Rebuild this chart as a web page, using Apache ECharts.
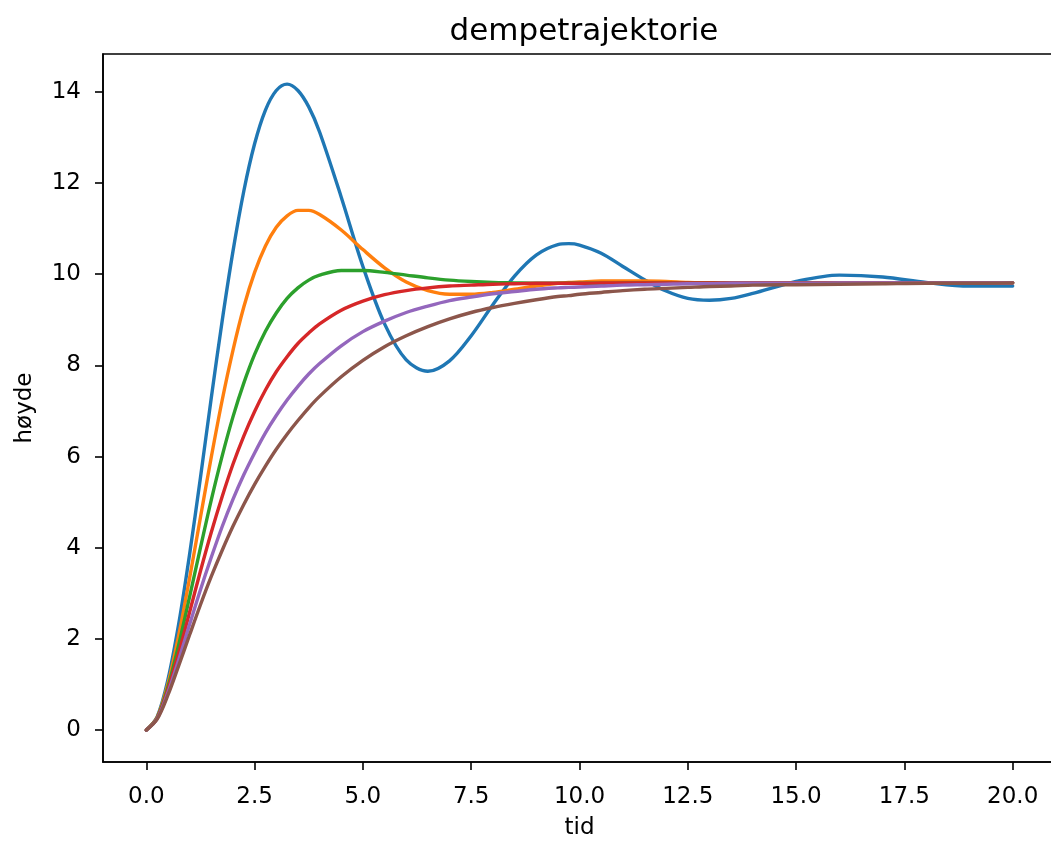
<!DOCTYPE html>
<html>
<head>
<meta charset="utf-8">
<script src="https://cdn.jsdelivr.net/npm/echarts@6/dist/echarts.min.js"></script>
<style>
	html, body { margin: 0; padding: 0; background: #fff; }
	#dempe { width: 1051px; height: 841px; }
</style>
</head>
<body>
<div id="dempe"></div>
<script>
	// tid (x)
	var tid = [0, 0.25, 0.5, 0.75, 1, 1.25, 1.5, 1.75, 2, 2.25, 2.5, 2.75, 3, 3.25, 3.5, 3.75, 4, 4.5, 5, 5.5, 6, 6.5, 7, 7.5, 8, 8.5, 9, 9.5, 9.75, 10, 10.5, 11, 11.5, 12, 12.5, 13, 13.5, 14, 15, 16, 17, 18, 19, 20];

	// høyde for hver kurve, lest av bildet
	var blaa = [0, 0.29, 1.11, 2.34, 3.86, 5.54, 7.29, 8.97, 10.50, 11.82, 12.86, 13.60, 14.03, 14.17, 14.03, 13.67, 13.12, 11.69, 10.17, 8.91, 8.12, 7.87, 8.10, 8.65, 9.33, 9.96, 10.42, 10.65, 10.67, 10.64, 10.46, 10.17, 9.88, 9.63, 9.47, 9.43, 9.47, 9.58, 9.84, 9.98, 9.94, 9.82, 9.74, 9.74];
	var oransje = [0, 0.28, 1.02, 2.09, 3.34, 4.67, 5.99, 7.23, 8.33, 9.28, 10.04, 10.62, 11.03, 11.28, 11.40, 11.40, 11.31, 10.97, 10.54, 10.14, 9.83, 9.64, 9.56, 9.56, 9.60, 9.67, 9.74, 9.80, 9.82, 9.83, 9.85, 9.85, 9.85, 9.84, 9.82, 9.81, 9.81, 9.80, 9.80, 9.81, 9.81, 9.81, 9.81, 9.81];
	var groenn = [0, 0.27, 0.95, 1.88, 2.93, 4.00, 5.05, 6.01, 6.87, 7.61, 8.24, 8.75, 9.15, 9.47, 9.70, 9.87, 9.98, 10.08, 10.08, 10.04, 9.98, 9.92, 9.87, 9.84, 9.82, 9.81, 9.80, 9.80, 9.80, 9.80, 9.80, 9.81, 9.81, 9.81, 9.81, 9.81, 9.81, 9.81, 9.81, 9.81, 9.81, 9.81, 9.81, 9.81];
	var roed = [0, 0.26, 0.89, 1.70, 2.59, 3.49, 4.34, 5.12, 5.83, 6.45, 6.99, 7.46, 7.86, 8.19, 8.48, 8.71, 8.91, 9.21, 9.41, 9.55, 9.64, 9.70, 9.74, 9.76, 9.78, 9.79, 9.80, 9.80, 9.80, 9.80, 9.81, 9.81, 9.81, 9.81, 9.81, 9.81, 9.81, 9.81, 9.81, 9.81, 9.81, 9.81, 9.81, 9.81];
	var lilla = [0, 0.25, 0.83, 1.55, 2.32, 3.08, 3.79, 4.46, 5.06, 5.60, 6.08, 6.52, 6.90, 7.24, 7.54, 7.81, 8.04, 8.43, 8.74, 8.97, 9.16, 9.30, 9.42, 9.50, 9.57, 9.62, 9.67, 9.70, 9.71, 9.72, 9.74, 9.76, 9.77, 9.78, 9.79, 9.79, 9.80, 9.80, 9.80, 9.81, 9.81, 9.81, 9.81, 9.81];
	var brun = [0, 0.24, 0.77, 1.42, 2.09, 2.75, 3.37, 3.94, 4.47, 4.95, 5.39, 5.79, 6.16, 6.49, 6.79, 7.07, 7.32, 7.75, 8.11, 8.41, 8.65, 8.85, 9.02, 9.16, 9.27, 9.36, 9.44, 9.51, 9.53, 9.56, 9.60, 9.64, 9.67, 9.69, 9.71, 9.73, 9.74, 9.76, 9.77, 9.78, 9.79, 9.80, 9.80, 9.81];

	// ticks
	var xTicks = [0, 2.5, 5, 7.5, 10, 12.5, 15, 17.5, 20];
	var yTicks = [0, 2, 4, 6, 8, 10, 12, 14];

	var kurver = [blaa, oransje, groenn, roed, lilla, brun];
	var farger = ['#1f77b4', '#ff7f0e', '#2ca02c', '#d62728', '#9467bd', '#8c564b'];

	var font = 'DejaVu Sans';

	function par(verdier) {
		return tid.map(function (t, i) { return [t, verdier[i]]; });
	}

	var serier = kurver.map(function (k, i) {
		return {
			type: 'line',
			data: par(k),
			smooth: 0.33,
			symbol: 'none',
			clip: true,
			lineStyle: { color: farger[i], width: 3.4, cap: 'round', join: 'round' },
			emphasis: { disabled: true }
		};
	});

	var dempe_option = {
		animation: false,
		backgroundColor: '#ffffff',
		title: {
			text: 'dempetrajektorie',
			left: 579,
			textAlign: 'center',
			top: 11,
			textStyle: { fontFamily: font, fontWeight: 'normal', fontSize: 31, color: '#000' }
		},
		grid: {
			left: 103,
			right: -5,
			top: 54,
			bottom: 79,
			outerBoundsMode: 'none',
			show: true,
			borderColor: '#000',
			borderWidth: 1.6
		},
		xAxis: {
			type: 'value',
			min: -1,
			max: 21,
			name: 'tid',
			nameLocation: 'middle',
			nameGap: 55,
			nameTextStyle: { fontFamily: font, fontSize: 23, color: '#000' },
			splitLine: { show: false },
			axisLine: { onZero: false, lineStyle: { color: '#000', width: 1.6 } },
			axisTick: { length: 8, lineStyle: { color: '#000', width: 1.6 }, customValues: xTicks },
			axisLabel: {
				fontFamily: font, fontSize: 23, color: '#000', margin: 24,
				customValues: xTicks,
				formatter: function (v) { return v.toFixed(1); }
			}
		},
		yAxis: {
			type: 'value',
			min: -0.7,
			max: 14.83,
			name: 'høyde',
			nameLocation: 'middle',
			nameGap: 66,
			nameTextStyle: { fontFamily: font, fontSize: 23, color: '#000' },
			splitLine: { show: false },
			axisLine: { show: true, onZero: false, lineStyle: { color: '#000', width: 1.6 } },
			axisTick: { show: true, length: 8, lineStyle: { color: '#000', width: 1.6 }, customValues: yTicks },
			axisLabel: {
				fontFamily: font, fontSize: 23, color: '#000', margin: 22,
				customValues: yTicks
			}
		},
		series: serier
	};

	var dempe = echarts.init(document.getElementById('dempe'));
	dempe.setOption(dempe_option, true);
</script>
</body>
</html>
